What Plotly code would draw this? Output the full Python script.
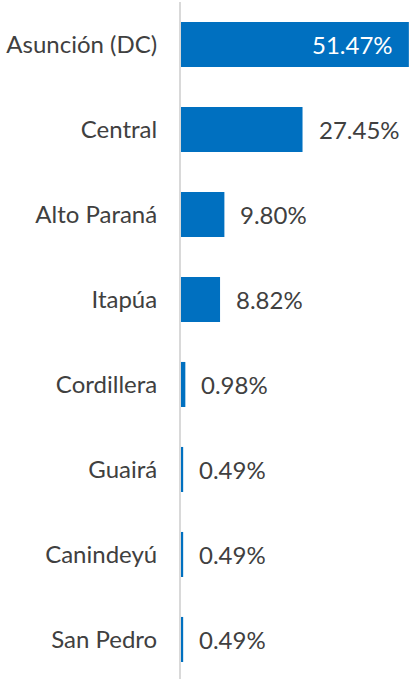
import plotly.graph_objects as go

categories = ["Asunción (DC)", "Central", "Alto Paraná", "Itapúa", "Cordillera", "Guairá", "Canindeyú", "San Pedro"]
values = [51.47, 27.45, 9.80, 8.82, 0.98, 0.49, 0.49, 0.49]
labels = ["51.47%", "27.45%", "9.80%", "8.82%", "0.98%", "0.49%", "0.49%", "0.49%"]

BAR = "#0070C0"
TXT = "#404040"
FONT = "Lato"

fig = go.Figure()
fig.add_trace(go.Bar(
    x=values, y=categories, orientation="h",
    marker=dict(color=BAR, line=dict(width=0)),
    width=0.53, hoverinfo="skip",
))

annotations = []
for i, (c, v, t) in enumerate(zip(categories, values, labels)):
    if i == 0:
        annotations.append(dict(x=v, y=c, text=t, showarrow=False, xanchor="right",
                                xshift=-14, font=dict(family=FONT, size=24, color="white")))
    else:
        annotations.append(dict(x=v, y=c, text=t, showarrow=False, xanchor="left",
                                xshift=14, font=dict(family=FONT, size=24, color=TXT)))

fig.update_layout(
    width=409, height=679,
    margin=dict(l=181, r=0, t=2, b=0),
    paper_bgcolor="white", plot_bgcolor="white",
    showlegend=False,
    annotations=annotations,
    xaxis=dict(range=[0, 51.5], visible=False, fixedrange=True),
    yaxis=dict(range=[7.465, -0.5], showline=True, linecolor="#d9d9d9", linewidth=2,
               showgrid=False, zeroline=False, ticks="", ticklabelstandoff=17,
               tickfont=dict(family=FONT, size=24, color=TXT), fixedrange=True),
    font=dict(family=FONT),
)

fig.write_html("out.html", config={"displayModeBar": False},
               post_script="document.body.style.margin='0';document.body.style.overflow='hidden';")
